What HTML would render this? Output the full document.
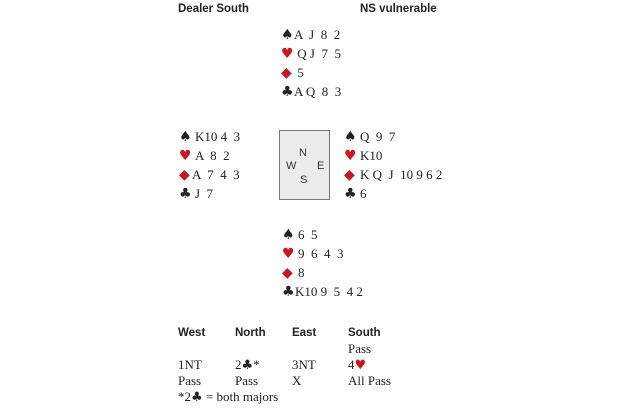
<!DOCTYPE html>
<html><head><meta charset="utf-8"><style>
body{margin:0;width:620px;height:410px;background:#fff;position:relative;overflow:hidden;font-family:"Liberation Serif",serif;font-size:13px;color:#222}
div{position:absolute;white-space:pre;line-height:16px}
.h{font-family:"Liberation Sans",sans-serif;font-weight:bold;font-size:11.5px}
.r{color:#c8181e}
.s{display:inline-block;width:13px;font-size:14px;line-height:16px;font-family:"DejaVu Sans",sans-serif}
.w{width:16px}
.i{font-size:13px;line-height:16px;font-family:"DejaVu Sans",sans-serif}
.d{font-size:14px}
.c{font-family:"Liberation Sans",sans-serif;font-size:11px;color:#333}
</style></head><body>
<div class="h" style="left:178px;top:1px">Dealer South</div>
<div class="h" style="left:360px;top:1px">NS vulnerable</div>

<div style="left:281px;top:27px"><span class="s">♠</span>A  J  8  2</div>
<div style="left:281px;top:46px"><span class="s r">♥</span> Q J  7  5</div>
<div style="left:281px;top:65px"><span class="s r d">◆</span> 5</div>
<div style="left:281px;top:84px"><span class="s">♣</span>A Q  8  3</div>

<div style="left:179px;top:129px"><span class="s w">♠</span>K10 4  3</div>
<div style="left:179px;top:148px"><span class="s w r">♥</span>A  8  2</div>
<div style="left:179px;top:167px"><span class="s r d">◆</span>A  7  4  3</div>
<div style="left:179px;top:186px"><span class="s w">♣</span>J  7</div>

<div style="left:279px;top:130px;width:49px;height:68px;background:#ececec;border:1.5px solid #777"></div>
<div class="c" style="left:299px;top:145px">N</div>
<div class="c" style="left:286px;top:158px">W</div>
<div class="c" style="left:317px;top:158px">E</div>
<div class="c" style="left:300px;top:172px">S</div>

<div style="left:344px;top:129px"><span class="s w">♠</span>Q  9  7</div>
<div style="left:344px;top:148px"><span class="s w r">♥</span>K10</div>
<div style="left:344px;top:167px"><span class="s w r d">◆</span>K Q  J  10 9 6 2</div>
<div style="left:344px;top:186px"><span class="s w">♣</span>6</div>

<div style="left:282px;top:227px"><span class="s w">♠</span>6  5</div>
<div style="left:282px;top:246px"><span class="s w r">♥</span>9  6  4  3</div>
<div style="left:282px;top:265px"><span class="s w r d">◆</span>8</div>
<div style="left:282px;top:284px"><span class="s">♣</span>K10 9  5  4 2</div>

<div class="h" style="left:178px;top:325px">West</div>
<div class="h" style="left:235px;top:325px">North</div>
<div class="h" style="left:292px;top:325px">East</div>
<div class="h" style="left:348px;top:325px">South</div>
<div style="left:348px;top:341px">Pass</div>
<div style="left:178px;top:357px">1NT</div>
<div style="left:235px;top:357px">2<span class="i">♣</span>*</div>
<div style="left:292px;top:357px">3NT</div>
<div style="left:348px;top:357px">4<span class="i r">♥</span></div>
<div style="left:178px;top:373px">Pass</div>
<div style="left:235px;top:373px">Pass</div>
<div style="left:292px;top:373px">X</div>
<div style="left:348px;top:373px">All Pass</div>
<div style="left:178px;top:389px">*2<span class="i">♣</span> = both majors</div>
</body></html>
